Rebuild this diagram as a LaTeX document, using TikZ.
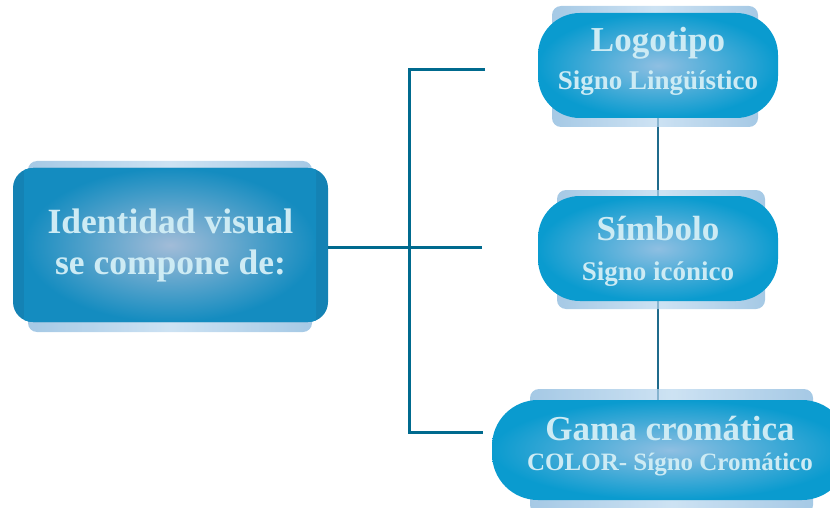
\documentclass[tikz,border=0pt]{standalone}
\usepackage{fontspec}
\setmainfont{Liberation Serif}
\definecolor{linkblue}{HTML}{006A8E}
\definecolor{vlink}{HTML}{1F6B8C}
\definecolor{pilledge}{HTML}{0A9BCF}
\definecolor{pillcore}{HTML}{8FBFE2}
\definecolor{identedge}{HTML}{148CC0}
\definecolor{identcore}{HTML}{A2BCD8}
\definecolor{identside}{HTML}{1482B4}
\definecolor{bandedge}{HTML}{7FB2DA}
\definecolor{bandmid}{HTML}{B8D6EE}
\definecolor{labeltext}{HTML}{CDEBF4}
\newcommand{\titlefont}{\bfseries\fontsize{35}{35}\selectfont}
\newcommand{\subfont}{\bfseries\fontsize{27}{27}\selectfont}
\newcommand{\smallsubfont}{\bfseries\fontsize{25}{25}\selectfont}
\newcommand{\identfont}{\bfseries\fontsize{35.5}{35.5}\selectfont}
\begin{document}
\begin{tikzpicture}[x=1pt,y=-1pt,
  backband/.style={left color=bandedge, right color=bandedge, middle color=bandmid,
    fill opacity=0.7, rounded corners=9pt},
  pill/.style={shape=rectangle, rounded corners=42pt, inner color=pillcore,
    outer color=pilledge, text=labeltext, align=center, inner sep=0pt,
    minimum width=240pt, minimum height=105pt},
  identlabel/.style={shape=rectangle, text=labeltext, align=center, inner sep=0pt,
    minimum width=315pt, minimum height=154pt},
  link/.style={draw=linkblue, line width=3pt},
  vconn/.style={draw=vlink, line width=2.5pt}]
\useasboundingbox (0,0) rectangle (830,508);
\clip (0,0) rectangle (830,508);

% vertical chain behind the right-hand boxes
\coordinate (chaintop) at (658,110);
\coordinate (chainbot) at (658,405);
\draw[vconn] (chaintop) -- (chainbot);

% pale back bands
\shade[backband] (28,161) rectangle (312,332);
\shade[backband] (552,6) rectangle (758,127);
\shade[backband] (557,190) rectangle (765,309);
\shade[backband] (530,389) rectangle (813,514);

% main box: darker side rims and radial core
\path[fill=identside, rounded corners=20pt] (13,168) rectangle (328,322);
\begin{scope}
  \clip[rounded corners=20pt] (13,168) rectangle (328,322);
  \shade[inner color=identcore, outer color=identedge] (24,168) rectangle (316,322);
\end{scope}
\node[identlabel] (ident) at (170.5,245)
  {\identfont Identidad visual\\[15pt]\identfont se compone de:};

% right-hand boxes
\node[pill, text depth=14pt] (logo) at (658,65.5)
  {\titlefont Logotipo\\[11pt]\subfont Signo Lingüístico};
\node[pill, text depth=0pt] (simb) at (658,248.5)
  {\titlefont Símbolo\\[20pt]\subfont Signo icónico};
\node[pill, rounded corners=46pt, minimum width=356pt, minimum height=100pt,
  text depth=13pt] (gama) at (670,450)
  {\titlefont Gama cromática\\[11pt]\smallsubfont COLOR- Sígno Cromático};

% bracket from the main box
\coordinate (hubtop) at (409,70);
\coordinate (hubmid) at (409,247);
\coordinate (hubbot) at (409,432);
\coordinate (endtop) at (485,70);
\coordinate (endmid) at (482,247);
\coordinate (endbot) at (483,432);
\draw[link] (ident.east |- hubmid) -- (endmid);
\draw[link] (endtop) -- (hubtop) -- (hubbot) -- (endbot);
\end{tikzpicture}
\end{document}
